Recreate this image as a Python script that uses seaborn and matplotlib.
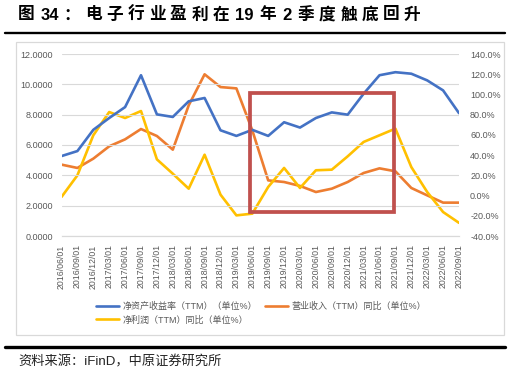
import pandas as pd
import seaborn as sns
import matplotlib.pyplot as plt
from matplotlib.lines import Line2D
from matplotlib.patches import Rectangle

# quarterly dates
dates = ['2016/06/01', '2016/09/01', '2016/12/01', '2017/03/01', '2017/06/01', '2017/09/01',
         '2017/12/01', '2018/03/01', '2018/06/01', '2018/09/01', '2018/12/01', '2019/03/01',
         '2019/06/01', '2019/09/01', '2019/12/01', '2020/03/01', '2020/06/01', '2020/09/01',
         '2020/12/01', '2021/03/01', '2021/06/01', '2021/09/01', '2021/12/01', '2022/03/01',
         '2022/06/01', '2022/09/01']

# ROE (TTM), left axis
roe = [5.27, 5.60, 7.00, 7.78, 8.50, 10.60, 8.02, 7.85, 8.88, 9.10, 6.97, 6.60,
       7.00, 6.60, 7.50, 7.15, 7.78, 8.15, 8.00, 9.38, 10.60, 10.80, 10.70, 10.26,
       9.60, 8.10]

# revenue (TTM) yoy %, right axis
revenue_yoy = [30.6, 27.3, 36.5, 48.7, 55.6, 65.8, 58.9, 45.4, 89.2, 119.9, 107.3, 106.0,
               64.5, 15.0, 13.4, 9.5, 3.5, 6.8, 13.4, 22.3, 26.9, 24.0, 7.5, 0.2,
               -7.0, -7.0]

# net profit (TTM) yoy %, right axis
profit_yoy = [-1.4, 20.0, 59.6, 82.6, 76.7, 83.6, 35.8, 21.6, 6.8, 40.4, 0.9, -19.6,
              -17.9, 8.5, 27.3, 7.5, 25.0, 25.6, 38.8, 53.0, 59.6, 66.2, 28.2, 3.5,
              -16.3, -27.0]

labels = ['净资产收益率（TTM）（单位%）', '营业收入（TTM）同比（单位%）', '净利润（TTM）同比（单位%）']
colors = ['#4472C4', '#ED7D31', '#FFC000']

# title, split in pieces because the original is letter-spaced
title_parts = ['图', ' ', '34', '：', '电', '子', '行', '业', '盈', '利', '在', ' ', '19', ' ',
               '年', ' ', '2', ' ', '季', '度', '触', '底', '回', '升']

# highlighted window (2019Q2 - 2021Q3), in left-axis units
box_x = (11.85, 20.9)
box_y = (1.6, 9.4)

df = pd.DataFrame({'date': dates, 'roe': roe, 'rev': revenue_yoy, 'profit': profit_yoy})
df['pos'] = range(len(df))

sns.set_style('white')
plt.rcParams['font.family'] = ['Liberation Sans', 'Noto Sans CJK SC', 'DejaVu Sans']
grey = '#595959'
light = '#d9d9d9'
W, H = 511, 379

fig = plt.figure(figsize=(W / 100, H / 100), dpi=100)
renderer = fig.canvas.get_renderer()

# chart frame, rules, title and source
fig.patches.append(Rectangle((16 / W, 1 - 335 / H), 488 / W, 293 / H,
                             transform=fig.transFigure, fill=False, edgecolor=light, lw=0.9))
fig.add_artist(Line2D([5 / W, 505 / W], [1 - 33 / H] * 2, color='black', lw=1.7))
fig.add_artist(Line2D([5 / W, 505 / W], [1 - 347 / H] * 2, color='black', lw=2.4))

x = 18.0
for part in title_parts:
    if part == ' ':
        x += 1.5
        continue
    t = fig.text(x / W, 1 - 15 / H, part, fontsize=12, fontweight='bold',
                 va='center', ha='left', color='black')
    x += t.get_window_extent(renderer).width + 4.6

fig.text(18 / W, 1 - 362 / H, '资料来源：iFinD，中原证券研究所',
         fontsize=9.5, va='center', ha='left', color='#222222')

ax = fig.add_axes([61.5 / W, 1 - 236 / H, 397.5 / W, 182 / H])
ax2 = ax.twinx()

sns.lineplot(data=df, x='pos', y='roe', ax=ax, color=colors[0], linewidth=1.9)
sns.lineplot(data=df, x='pos', y='rev', ax=ax2, color=colors[1], linewidth=1.9)
sns.lineplot(data=df, x='pos', y='profit', ax=ax2, color=colors[2], linewidth=1.9)

ax.set_xlim(0, len(dates) - 1)
ax.set_ylim(0, 12)
ax2.set_ylim(-40, 140)
ax.set_yticks(range(0, 13, 2))
ax2.set_yticks(range(-40, 141, 20))
ax.set_yticklabels([f'{v:.4f}' for v in range(0, 13, 2)])
ax2.set_yticklabels([f'{v:.1f}%' for v in range(-40, 141, 20)])
ax.set_xticks(df['pos'])
ax.set_xticklabels(dates, rotation=90)
ax.set_xlabel('')
ax.set_ylabel('')
ax2.set_ylabel('')

ax.grid(axis='y', color=light, lw=0.8)
ax.grid(axis='x', visible=False)
ax2.grid(False)
for a in (ax, ax2):
    for s in ('top', 'left', 'right'):
        a.spines[s].set_visible(False)
    a.spines['bottom'].set_color(light)
ax.tick_params(axis='x', length=3, color=light, labelsize=6.3, labelcolor=grey, pad=3)
ax.tick_params(axis='y', length=0, labelsize=6.5, labelcolor=grey, pad=6)
ax2.tick_params(axis='y', length=0, labelsize=6.5, labelcolor=grey, pad=8)

# red highlight box
ax.add_patch(Rectangle((box_x[0], box_y[0]), box_x[1] - box_x[0], box_y[1] - box_y[0],
                       fill=False, edgecolor='#C0504D', lw=2.7, zorder=5, clip_on=False))
ax.set_zorder(ax2.get_zorder() + 1)
ax.patch.set_visible(False)

handles = [Line2D([], [], color=c, lw=1.9) for c in colors]
# ncol=2 fills column-wise: blue, yellow | orange
order = [0, 2, 1]
fig.legend([handles[i] for i in order], [labels[i] for i in order],
           loc='upper left', bbox_to_anchor=(96 / W, 1 - 302 / H), ncol=2,
           frameon=False, fontsize=6.5, labelcolor=grey, handlelength=2.5,
           handletextpad=0.4, columnspacing=0.9, labelspacing=0.45,
           borderpad=0, borderaxespad=0)

fig.savefig('out.png', dpi=100)
